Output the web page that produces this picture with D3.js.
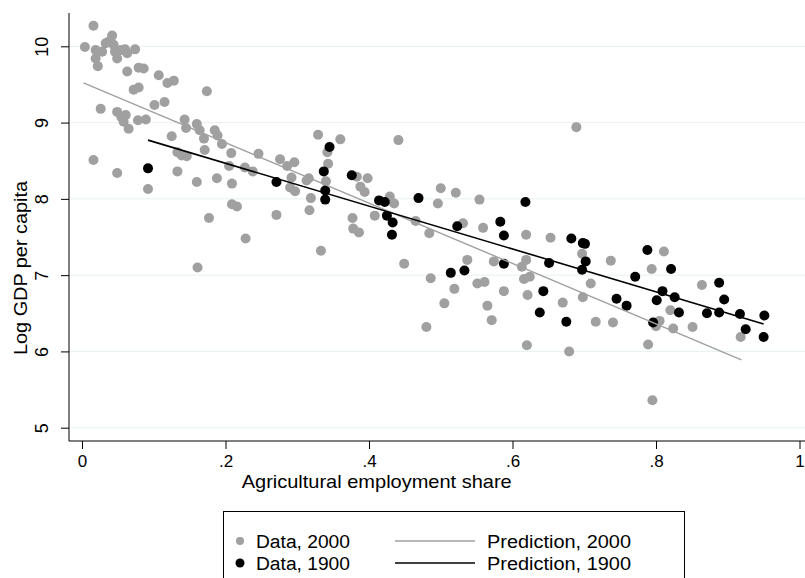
<!DOCTYPE html>
<html>
<head>
<meta charset="utf-8">
<script src="https://cdn.jsdelivr.net/npm/d3@7"></script>
<style>
  body { margin: 0; background: #fff; }
  svg { display: block; font-family: "Liberation Sans", Arial, sans-serif; }
</style>
</head>
<body>
<div id="chart"></div>
<script>
// Data, 2000 (agricultural employment share, log GDP per capita)
const share2000 = [0.016, 0.042, 0.004, 0.019, 0.033, 0.037, 0.044, 0.028, 0.046, 0.049, 0.060, 0.074, 0.063, 0.019, 0.022,
  0.063, 0.079, 0.086, 0.107, 0.119, 0.128, 0.072, 0.079, 0.174, 0.026, 0.049, 0.055, 0.061, 0.058, 0.065,
  0.078, 0.089, 0.101, 0.115, 0.125, 0.143, 0.145, 0.160, 0.164, 0.170, 0.185, 0.189, 0.195, 0.171, 0.208,
  0.205, 0.227, 0.238, 0.246, 0.016, 0.049, 0.092, 0.133, 0.160, 0.188, 0.209, 0.209, 0.216, 0.177, 0.228,
  0.161, 0.133, 0.139, 0.146, 0.276, 0.286, 0.296, 0.292, 0.290, 0.297, 0.271, 0.329, 0.360, 0.313, 0.316,
  0.319, 0.317, 0.342, 0.343, 0.340, 0.383, 0.398, 0.388, 0.394, 0.377, 0.378, 0.386, 0.333, 0.408, 0.429,
  0.435, 0.441, 0.465, 0.484, 0.449, 0.486, 0.500, 0.521, 0.496, 0.554, 0.531, 0.559, 0.537, 0.519, 0.505,
  0.480, 0.551, 0.561, 0.565, 0.571, 0.574, 0.588, 0.619, 0.619, 0.613, 0.616, 0.624, 0.621, 0.620, 0.653,
  0.670, 0.679, 0.697, 0.698, 0.709, 0.716, 0.740, 0.737, 0.794, 0.811, 0.805, 0.800, 0.820, 0.824, 0.789,
  0.795, 0.864, 0.851, 0.918, 0.689, 0.054];
const gdp2000 = [10.27, 10.14, 9.99, 9.95, 10.04, 10.06, 10.02, 9.93, 9.93, 9.84, 9.96, 9.96, 9.91, 9.84, 9.74,
  9.67, 9.72, 9.71, 9.62, 9.52, 9.55, 9.43, 9.46, 9.41, 9.18, 9.14, 9.07, 9.10, 9.01, 8.92,
  9.03, 9.04, 9.23, 9.27, 8.82, 9.04, 8.93, 8.98, 8.90, 8.79, 8.90, 8.83, 8.72, 8.64, 8.60,
  8.43, 8.41, 8.36, 8.59, 8.51, 8.34, 8.13, 8.36, 8.22, 8.27, 8.20, 7.93, 7.90, 7.75, 7.48,
  7.10, 8.61, 8.57, 8.56, 8.52, 8.43, 8.48, 8.28, 8.15, 8.10, 7.79, 8.84, 8.78, 8.24, 8.27,
  8.01, 7.85, 8.61, 8.46, 8.23, 8.29, 8.27, 8.16, 8.09, 7.75, 7.61, 7.56, 7.32, 7.78, 8.03,
  7.94, 8.77, 7.71, 7.55, 7.15, 6.96, 8.14, 8.08, 7.94, 7.99, 7.68, 7.62, 7.20, 6.82, 6.63,
  6.32, 6.89, 6.91, 6.60, 6.41, 7.18, 6.79, 7.53, 7.20, 7.11, 6.95, 6.98, 6.74, 6.08, 7.49,
  6.64, 6.00, 7.28, 6.71, 6.89, 6.39, 6.38, 7.19, 7.08, 7.31, 6.40, 6.33, 6.54, 6.30, 6.09,
  5.36, 6.87, 6.32, 6.19, 8.94, 9.95];

// Data, 1900
const share1900 = [0.092, 0.271, 0.345, 0.337, 0.376, 0.339, 0.339, 0.414, 0.422, 0.425, 0.433, 0.432, 0.469, 0.523, 0.514,
  0.533, 0.583, 0.588, 0.588, 0.618, 0.651, 0.643, 0.638, 0.675, 0.682, 0.698, 0.701, 0.702, 0.697, 0.745,
  0.759, 0.771, 0.788, 0.821, 0.809, 0.801, 0.826, 0.832, 0.796, 0.871, 0.888, 0.895, 0.888, 0.917, 0.925,
  0.951, 0.950];
const gdp1900 = [8.40, 8.22, 8.68, 8.36, 8.31, 8.11, 7.99, 7.98, 7.96, 7.78, 7.69, 7.53, 8.01, 7.64, 7.03,
  7.06, 7.70, 7.52, 7.15, 7.96, 7.16, 6.79, 6.51, 6.39, 7.48, 7.42, 7.41, 7.18, 7.07, 6.69,
  6.60, 6.98, 7.33, 7.08, 6.79, 6.67, 6.71, 6.51, 6.38, 6.50, 6.90, 6.68, 6.51, 6.49, 6.29,
  6.47, 6.19];

// Fitted lines (end points)
const predShare2000 = [0.002, 0.919];
const predGdp2000 = [9.52, 5.89];
const predShare1900 = [0.092, 0.950];
const predGdp1900 = [8.77, 6.36];

const xTicks = [0, 0.2, 0.4, 0.6, 0.8, 1];
const yTicks = [5, 6, 7, 8, 9, 10];
const xLabel = 'Agricultural employment share';
const yLabel = 'Log GDP per capita';
const legendLabels = ['Data, 2000', 'Data, 1900', 'Prediction, 2000', 'Prediction, 1900'];

const width = 805, height = 578;
const grey = '#a0a0a0';

const svg = d3.select('#chart').append('svg')
  .attr('width', width)
  .attr('height', height);

const x = d3.scaleLinear().domain([0, 1]).range([82, 799.5]);
const y = d3.scaleLinear().domain([5, 10]).range([427.7, 46.3]);

const axisX = 69, axisY = 441;

// grid lines
svg.append('g')
  .selectAll('line')
  .data(yTicks)
  .enter()
  .append('line')
  .attr('x1', axisX).attr('x2', width)
  .attr('y1', d => y(d)).attr('y2', d => y(d))
  .attr('stroke', '#e8f0f2')
  .attr('stroke-width', 1);

// y axis
const gy = svg.append('g')
  .attr('transform', `translate(${axisX},0)`)
  .call(d3.axisLeft(y).tickValues(yTicks).tickSize(8).tickFormat(d3.format('d')));
gy.select('.domain').remove();
gy.selectAll('.tick line').attr('stroke', '#000');
gy.selectAll('.tick text')
  .attr('x', 0).attr('dy', null)
  .attr('transform', 'translate(-21,0) rotate(-90)')
  .attr('text-anchor', 'middle')
  .attr('font-size', 18)
  .attr('fill', '#000');
svg.append('line')
  .attr('x1', axisX).attr('x2', axisX)
  .attr('y1', 13).attr('y2', axisY)
  .attr('stroke', '#000');

// x axis
const gx = svg.append('g')
  .attr('transform', `translate(0,${axisY})`)
  .call(d3.axisBottom(x).tickValues(xTicks).tickSize(8)
    .tickFormat(d => (d === 0 || d === 1) ? String(d) : String(d).replace('0.', '.')));
gx.select('.domain').remove();
gx.selectAll('.tick line').attr('stroke', '#000');
gx.selectAll('.tick text')
  .attr('y', 26).attr('dy', null)
  .attr('font-size', 17)
  .attr('fill', '#000');
svg.append('line')
  .attr('x1', axisX).attr('x2', width)
  .attr('y1', axisY).attr('y2', axisY)
  .attr('stroke', '#000');

// axis titles
svg.append('text')
  .attr('x', 241.7).attr('y', 488)
  .attr('font-size', 18.5)
  .attr('textLength', 270).attr('lengthAdjust', 'spacingAndGlyphs')
  .text(xLabel);
svg.append('text')
  .attr('transform', 'translate(27,355) rotate(-90)')
  .attr('font-size', 19)
  .attr('textLength', 174).attr('lengthAdjust', 'spacingAndGlyphs')
  .text(yLabel);

// scatter points
svg.append('g')
  .selectAll('circle')
  .data(share2000.map((s, i) => [s, gdp2000[i]]))
  .enter()
  .append('circle')
  .attr('cx', d => x(d[0]))
  .attr('cy', d => y(d[1]))
  .attr('r', 5)
  .attr('fill', grey);

svg.append('g')
  .selectAll('circle')
  .data(share1900.map((s, i) => [s, gdp1900[i]]))
  .enter()
  .append('circle')
  .attr('cx', d => x(d[0]))
  .attr('cy', d => y(d[1]))
  .attr('r', 5)
  .attr('fill', '#000');

// prediction lines
const line = d3.line().x(d => x(d[0])).y(d => y(d[1]));
svg.append('path')
  .attr('d', line(predShare2000.map((s, i) => [s, predGdp2000[i]])))
  .attr('fill', 'none')
  .attr('stroke', grey)
  .attr('stroke-width', 1.4);
svg.append('path')
  .attr('d', line(predShare1900.map((s, i) => [s, predGdp1900[i]])))
  .attr('fill', 'none')
  .attr('stroke', '#000')
  .attr('stroke-width', 1.6);

// legend
const legend = svg.append('g');
legend.append('rect')
  .attr('x', 223.5).attr('y', 511.5)
  .attr('width', 461).attr('height', 90)
  .attr('fill', 'none')
  .attr('stroke', '#000');

const rowY = [541, 563];
legend.append('circle').attr('cx', 240).attr('cy', rowY[0]).attr('r', 4).attr('fill', grey);
legend.append('circle').attr('cx', 240).attr('cy', rowY[1]).attr('r', 4.5).attr('fill', '#000');
legend.append('line').attr('x1', 395).attr('x2', 475).attr('y1', rowY[0]).attr('y2', rowY[0])
  .attr('stroke', grey).attr('stroke-width', 1.4);
legend.append('line').attr('x1', 395).attr('x2', 475).attr('y1', rowY[1]).attr('y2', rowY[1])
  .attr('stroke', '#000').attr('stroke-width', 1.6);

const textPos = [[256, rowY[0], 94], [256, rowY[1], 94], [487, rowY[0], 144], [487, rowY[1], 144]];
legend.selectAll('text')
  .data(legendLabels)
  .enter()
  .append('text')
  .attr('x', (d, i) => textPos[i][0])
  .attr('y', (d, i) => textPos[i][1] + 7)
  .attr('font-size', 18)
  .attr('textLength', (d, i) => textPos[i][2])
  .attr('lengthAdjust', 'spacingAndGlyphs')
  .text(d => d);
</script>
</body>
</html>
